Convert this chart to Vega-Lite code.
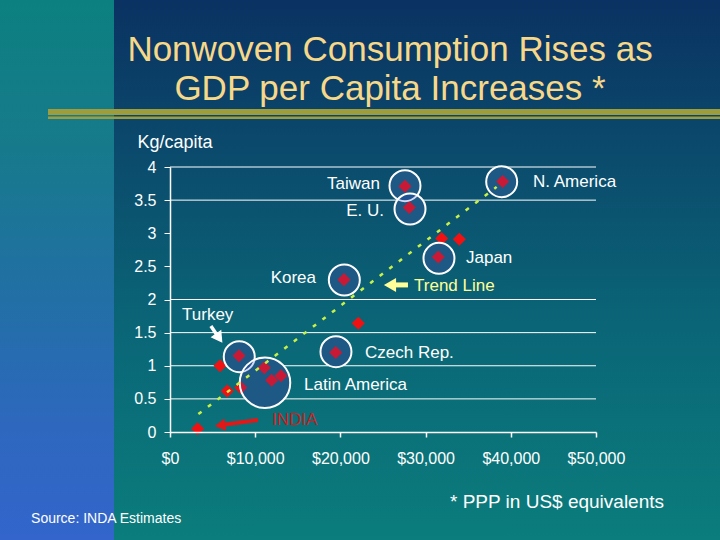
{
  "$schema": "https://vega.github.io/schema/vega-lite/v6.json",
  "width": 426,
  "height": 265,
  "autosize": "none",
  "padding": {"left": 170, "top": 167, "right": 124, "bottom": 108},
  "background": "#0b5a72",
  "title": {
    "text": ["Nonwoven Consumption Rises as", "GDP per Capita Increases *"],
    "fontSize": 35,
    "font": "Liberation Sans",
    "fontWeight": "normal",
    "color": "#f7d889",
    "anchor": "middle",
    "frame": "group",
    "baseline": "bottom",
    "lineHeight": 39,
    "offset": -174,
    "dx": 7
  },
  "config": {
    "view": {"stroke": null},
    "font": "Liberation Sans"
  },
  "datasets": {
    "points": [
      {"name": "India", "gdp": 3250, "kg": 0.05},
      {"name": "", "gdp": 5870, "kg": 1.0},
      {"name": "", "gdp": 6730, "kg": 0.62},
      {"name": "", "gdp": 8300, "kg": 0.67},
      {"name": "Turkey", "gdp": 8100, "kg": 1.15},
      {"name": "", "gdp": 11070, "kg": 0.97},
      {"name": "", "gdp": 11930, "kg": 0.78},
      {"name": "", "gdp": 13030, "kg": 0.85},
      {"name": "Czech Rep.", "gdp": 19450, "kg": 1.2},
      {"name": "", "gdp": 22100, "kg": 1.64},
      {"name": "Korea", "gdp": 20420, "kg": 2.3},
      {"name": "Taiwan", "gdp": 27580, "kg": 3.71},
      {"name": "E. U.", "gdp": 28090, "kg": 3.39},
      {"name": "Japan", "gdp": 31490, "kg": 2.64},
      {"name": "", "gdp": 31890, "kg": 2.92},
      {"name": "", "gdp": 33960, "kg": 2.91},
      {"name": "N. America", "gdp": 39050, "kg": 3.78}
    ],
    "circles": [
      {"name": "Turkey", "gdp": 8130, "kg": 1.137, "group": "country"},
      {"name": "Czech Rep.", "gdp": 19480, "kg": 1.212, "group": "country"},
      {"name": "Korea", "gdp": 20460, "kg": 2.294, "group": "country"},
      {"name": "Taiwan", "gdp": 27580, "kg": 3.718, "group": "country"},
      {"name": "E. U.", "gdp": 28170, "kg": 3.366, "group": "country"},
      {"name": "Japan", "gdp": 31570, "kg": 2.622, "group": "country"},
      {"name": "N. America", "gdp": 38930, "kg": 3.778, "group": "country"},
      {"name": "Latin America", "gdp": 11150, "kg": 0.744, "group": "region"}
    ],
    "gridlines": [{"kg": 0.5}, {"kg": 1}, {"kg": 1.5}, {"kg": 2}, {"kg": 3.5}, {"kg": 4}],
    "trend": [{"gdp": 3330, "kg": 0.27}, {"gdp": 38340, "kg": 3.7}],
    "labelsRight": [
      {"text": "Taiwan", "gdp": 24650, "kg": 3.743},
      {"text": "E. U.", "gdp": 25120, "kg": 3.336},
      {"text": "Korea", "gdp": 17140, "kg": 2.325}
    ],
    "labelsLeft": [
      {"text": "N. America", "gdp": 42600, "kg": 3.774},
      {"text": "Japan", "gdp": 34740, "kg": 2.626},
      {"text": "Turkey", "gdp": 1410, "kg": 1.766},
      {"text": "Czech Rep.", "gdp": 22890, "kg": 1.192},
      {"text": "Latin America", "gdp": 15730, "kg": 0.709}
    ]
  },
  "layer": [
    {
      "data": {"values": [{"x1": -25000, "x2": 75000, "y1": -2, "y2": 7}]},
      "mark": {
        "type": "rect",
        "clip": false,
        "fill": {
          "gradient": "linear", "x1": 0, "y1": 0, "x2": 0, "y2": 1,
          "stops": [
            {"offset": 0, "color": "#0a2f5e"},
            {"offset": 0.053, "color": "#0a3262"},
            {"offset": 0.305, "color": "#0b4a6c"},
            {"offset": 0.607, "color": "#0a6677"},
            {"offset": 0.959, "color": "#0b7d7c"},
            {"offset": 1, "color": "#0b7e7d"}
          ]
        }
      },
      "encoding": {
        "x": {"field": "x1", "type": "quantitative", "scale": {"domain": [0, 50000], "nice": false, "zero": false}, "axis": {"zindex": 2, "values": [0, 10000, 20000, 30000, 40000, 50000], "tickCount": 12, "format": "$,.0f", "labelFontSize": 16, "labelColor": "white", "domainColor": "white", "domainWidth": 1.5, "tickColor": "white", "tickSize": 5, "tickWidth": 1.5, "labelPadding": 13, "labelOverlap": false, "grid": false, "title": null, "labelFlush": false}},
        "x2": {"field": "x2"},
        "y": {"field": "y1", "type": "quantitative", "scale": {"domain": [0, 4], "nice": false, "zero": false}, "axis": {"zindex": 2, "values": [0, 0.5, 1, 1.5, 2, 2.5, 3, 3.5, 4], "tickCount": 12, "format": ".1~f", "labelFontSize": 16, "labelColor": "white", "domainColor": "white", "domainWidth": 1.5, "tickColor": "white", "tickSize": 6, "labelPadding": 8, "labelOverlap": false, "labelBound": false, "grid": false, "title": "Kg/capita", "titleAngle": 0, "titleX": -33, "titleY": -25, "titleAlign": "left", "titleBaseline": "middle", "titleFontSize": 18, "titleFontWeight": "normal", "titleColor": "white", "labelFlush": false}},
        "y2": {"field": "y2"}
      }
    },
    {
      "data": {"values": [{"x1": -25000, "x2": -6573, "y1": -2, "y2": 7}]},
      "mark": {
        "type": "rect",
        "clip": false,
        "fill": {
          "gradient": "linear", "x1": 0, "y1": 0, "x2": 0, "y2": 1,
          "stops": [
            {"offset": 0, "color": "#0c8080"},
            {"offset": 0.053, "color": "#0c8080"},
            {"offset": 0.305, "color": "#177a8c"},
            {"offset": 0.557, "color": "#226fa6"},
            {"offset": 0.758, "color": "#2d68bd"},
            {"offset": 0.959, "color": "#3365cc"},
            {"offset": 1, "color": "#3365cc"}
          ]
        }
      },
      "encoding": {
        "x": {"field": "x1", "type": "quantitative"},
        "x2": {"field": "x2"},
        "y": {"field": "y1", "type": "quantitative"},
        "y2": {"field": "y2"}
      }
    },
    {
      "data": {"values": [{"x1": -14320, "x2": 75000, "y1": 4.785, "y2": 4.875}, {"x1": -14320, "x2": 75000, "y1": 4.725, "y2": 4.762}]},
      "mark": {"type": "rect", "clip": false, "fill": "#9e9d3e"},
      "encoding": {
        "x": {"field": "x1", "type": "quantitative"},
        "x2": {"field": "x2"},
        "y": {"field": "y1", "type": "quantitative"},
        "y2": {"field": "y2"}
      }
    },
    {
      "data": {"name": "gridlines"},
      "mark": {"type": "rule", "color": "white", "strokeWidth": 1},
      "encoding": {"y": {"field": "kg", "type": "quantitative"}}
    },
    {
      "data": {"name": "circles"},
      "transform": [{"filter": "datum.group === 'country'"}],
      "mark": {"type": "point", "shape": "circle", "filled": true, "fill": "#1b6173", "opacity": 1, "size": 960, "strokeWidth": 0},
      "encoding": {"x": {"field": "gdp", "type": "quantitative"}, "y": {"field": "kg", "type": "quantitative"}}
    },
    {
      "data": {"name": "circles"},
      "transform": [{"filter": "datum.group === 'region'"}],
      "mark": {"type": "point", "shape": "circle", "filled": true, "fill": "#1b6173", "opacity": 1, "size": 2550, "strokeWidth": 0},
      "encoding": {"x": {"field": "gdp", "type": "quantitative"}, "y": {"field": "kg", "type": "quantitative"}}
    },
    {
      "data": {"name": "points"},
      "mark": {"type": "point", "shape": "diamond", "filled": true, "fill": "#f01212", "opacity": 1, "size": 170, "strokeWidth": 0},
      "encoding": {"x": {"field": "gdp", "type": "quantitative"}, "y": {"field": "kg", "type": "quantitative"}}
    },
    {
      "data": {"name": "circles"},
      "transform": [{"filter": "datum.group === 'country'"}],
      "mark": {"type": "point", "shape": "circle", "filled": false, "fill": "#283cc8", "fillOpacity": 0.2, "stroke": "white", "strokeWidth": 2, "strokeOpacity": 1, "opacity": 1, "size": 960},
      "encoding": {"x": {"field": "gdp", "type": "quantitative"}, "y": {"field": "kg", "type": "quantitative"}}
    },
    {
      "data": {"name": "circles"},
      "transform": [{"filter": "datum.group === 'region'"}],
      "mark": {"type": "point", "shape": "circle", "filled": false, "fill": "#283cc8", "fillOpacity": 0.2, "stroke": "white", "strokeWidth": 2, "strokeOpacity": 1, "opacity": 1, "size": 2550},
      "encoding": {"x": {"field": "gdp", "type": "quantitative"}, "y": {"field": "kg", "type": "quantitative"}}
    },
    {
      "data": {"name": "trend"},
      "mark": {"type": "line", "color": "#c8f046", "strokeWidth": 2.5, "strokeDash": [4, 8]},
      "encoding": {"x": {"field": "gdp", "type": "quantitative"}, "y": {"field": "kg", "type": "quantitative"}}
    },
    {
      "data": {"values": [{"x1": 26400, "x2": 27930, "y1": 2.22, "y2": 2.22}]},
      "mark": {"type": "rule", "color": "#ffff99", "strokeWidth": 5},
      "encoding": {"x": {"field": "x1", "type": "quantitative"}, "x2": {"field": "x2"}, "y": {"field": "y1", "type": "quantitative"}, "y2": {"field": "y2"}}
    },
    {
      "data": {"values": [{"x": 25820, "y": 2.22}]},
      "mark": {"type": "point", "shape": "triangle-left", "filled": true, "fill": "#ffff99", "opacity": 1, "size": 196, "strokeWidth": 0},
      "encoding": {"x": {"field": "x", "type": "quantitative"}, "y": {"field": "y", "type": "quantitative"}}
    },
    {
      "data": {"values": [{"x1": 4800, "x2": 5770, "y1": 1.6, "y2": 1.416}]},
      "mark": {"type": "rule", "color": "white", "strokeWidth": 3.5},
      "encoding": {"x": {"field": "x1", "type": "quantitative"}, "x2": {"field": "x2"}, "y": {"field": "y1", "type": "quantitative"}, "y2": {"field": "y2"}}
    },
    {
      "data": {"values": [{"x": 5770, "y": 1.416}]},
      "mark": {"type": "point", "shape": "triangle-up", "angle": 145, "filled": true, "fill": "white", "opacity": 1, "size": 170, "strokeWidth": 0},
      "encoding": {"x": {"field": "x", "type": "quantitative"}, "y": {"field": "y", "type": "quantitative"}}
    },
    {
      "data": {"values": [{"x1": 10330, "x2": 5880, "y1": 0.181, "y2": 0.101}]},
      "mark": {"type": "rule", "color": "#e01818", "strokeWidth": 4},
      "encoding": {"x": {"field": "x1", "type": "quantitative"}, "x2": {"field": "x2"}, "y": {"field": "y1", "type": "quantitative"}, "y2": {"field": "y2"}}
    },
    {
      "data": {"values": [{"x": 5880, "y": 0.101}]},
      "mark": {"type": "point", "shape": "triangle-up", "angle": 262, "filled": true, "fill": "#e01818", "opacity": 1, "size": 150, "strokeWidth": 0},
      "encoding": {"x": {"field": "x", "type": "quantitative"}, "y": {"field": "y", "type": "quantitative"}}
    },
    {
      "data": {"name": "labelsRight"},
      "mark": {"type": "text", "align": "right", "baseline": "middle", "fontSize": 17, "color": "white"},
      "encoding": {"x": {"field": "gdp", "type": "quantitative"}, "y": {"field": "kg", "type": "quantitative"}, "text": {"field": "text"}}
    },
    {
      "data": {"name": "labelsLeft"},
      "mark": {"type": "text", "align": "left", "baseline": "middle", "fontSize": 17, "color": "white"},
      "encoding": {"x": {"field": "gdp", "type": "quantitative"}, "y": {"field": "kg", "type": "quantitative"}, "text": {"field": "text"}}
    },
    {
      "data": {"values": [{"text": "Trend Line", "gdp": 28640, "kg": 2.204}]},
      "mark": {"type": "text", "align": "left", "baseline": "middle", "fontSize": 17, "color": "#ffff99"},
      "encoding": {"x": {"field": "gdp", "type": "quantitative"}, "y": {"field": "kg", "type": "quantitative"}, "text": {"field": "text"}}
    },
    {
      "data": {"values": [{"text": "INDIA", "gdp": 11970, "kg": 0.181}]},
      "mark": {"type": "text", "align": "left", "baseline": "middle", "fontSize": 17, "color": "#cc1f1f"},
      "encoding": {"x": {"field": "gdp", "type": "quantitative"}, "y": {"field": "kg", "type": "quantitative"}, "text": {"field": "text"}}
    },
    {
      "data": {"values": [{"text": "* PPP in US$ equivalents", "gdp": 32860, "kg": -1.057}]},
      "mark": {"type": "text", "align": "left", "baseline": "middle", "fontSize": 19, "color": "white", "clip": false},
      "encoding": {"x": {"field": "gdp", "type": "quantitative"}, "y": {"field": "kg", "type": "quantitative"}, "text": {"field": "text"}}
    },
    {
      "data": {"values": [{"text": "Source: INDA Estimates", "gdp": -16310, "kg": -1.313}]},
      "mark": {"type": "text", "align": "left", "baseline": "middle", "fontSize": 14, "color": "white", "clip": false},
      "encoding": {"x": {"field": "gdp", "type": "quantitative"}, "y": {"field": "kg", "type": "quantitative"}, "text": {"field": "text"}}
    }
  ]
}
